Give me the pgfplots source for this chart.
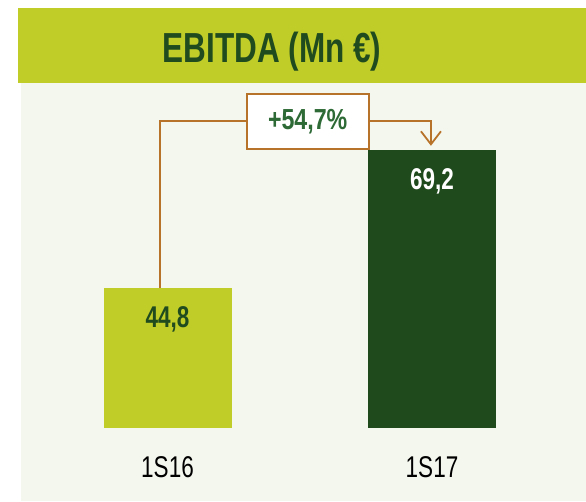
\documentclass[border=0pt]{standalone}
\usepackage{fontspec}
\setmainfont{Liberation Sans}
\newfontfamily\nar[FakeStretch=0.75]{Liberation Sans}
\newfontfamily\narb[FakeStretch=0.8]{Liberation Sans}
\usepackage{pgfplots}
\pgfplotsset{compat=1.18}
\usetikzlibrary{arrows.meta}
\definecolor{lime}{RGB}{192,204,40}
\definecolor{darkgr}{RGB}{30,74,28}
\definecolor{titlegr}{RGB}{31,75,31}
\definecolor{boxgr}{RGB}{45,106,53}
\definecolor{panel}{RGB}{244,247,238}
\definecolor{copper}{RGB}{184,115,42}

\begin{document}
\begin{tikzpicture}[x=1pt,y=1pt]
\useasboundingbox (0,0) rectangle (586,501);
\fill[white] (0,0) rectangle (586,501);
% title band and panel
\fill[panel] (21,0) rectangle (586,418);
\fill[lime] (18,418) rectangle (586,493);
\node[anchor=base, inner sep=0pt, text=titlegr, font=\nar\bfseries\fontsize{42}{48}\selectfont]
  at (272,438) {EBITDA (Mn €)};

\begin{axis}[scale only axis, width=565pt, height=345pt,
  at={(21pt,73pt)}, anchor=south west,
  xmin=-0.5539, xmax=1.5822, ymin=20, ymax=81,
  ybar, bar width=128pt, bar shift=0pt,
  axis line style={draw=none}, tick style={draw=none},
  ytick=\empty, xtick={0,1}, xticklabels={1S16,1S17},
  xticklabel style={anchor=north, inner sep=0pt, yshift=-24pt,
    font=\nar\fontsize{30}{36}\selectfont, text=black},
  clip=false,
  every node near coord/.append style={anchor=north, inner sep=0pt, yshift=-19pt,
    font=\nar\bfseries\fontsize{30}{36}\selectfont}]
\addplot[fill=lime, draw=none, nodes near coords={44,8},
  every node near coord/.append style={text=titlegr}] coordinates {(0,44.8)};
\addplot[fill=darkgr, draw=none, nodes near coords={69,2},
  every node near coord/.append style={text=white}] coordinates {(1,69.2)};
% growth arrow
\draw[copper, line width=1.8pt] (axis cs:-0.028,44.8) |- (axis cs:0.5,74.3);
\draw[copper, line width=1.8pt, -{Straight Barb[length=13pt,width=20pt,line width=1.8pt]}]
  (axis cs:0.5,74.3) -| (axis cs:0.996,69.9);
\node[draw=copper, line width=1.8pt, fill=white, minimum width=122pt, minimum height=55pt,
  inner sep=0pt, text=boxgr, font=\narb\bfseries\fontsize{29}{35}\selectfont]
  at (axis cs:0.530,74.15) {+54,7\%};
\end{axis}
\end{tikzpicture}
\end{document}
